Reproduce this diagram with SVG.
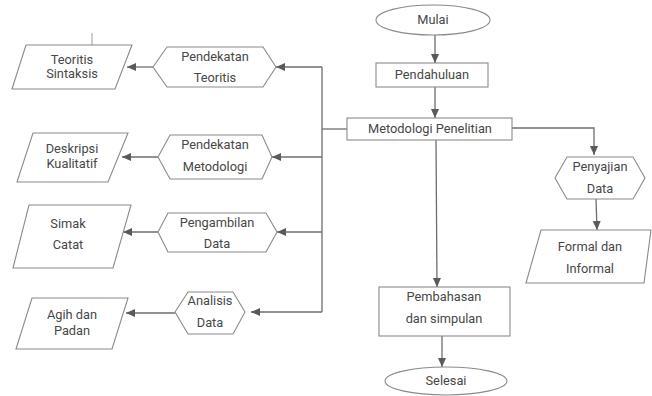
<svg xmlns="http://www.w3.org/2000/svg" width="652" height="396" viewBox="0 0 652 396">
<style>
.s{fill:#fff;stroke:#8a8a8a;stroke-width:1.1}
.t{font-family:Roboto,"Liberation Sans",sans-serif;font-size:12.8px;fill:#474747;text-anchor:middle}
.c{fill:none;stroke:#6e6e6e;stroke-width:1.3}
</style>
<defs>
<marker id="a" markerUnits="userSpaceOnUse" markerWidth="10" markerHeight="10" refX="9" refY="5" orient="auto">
<path d="M0,1 L9,5 L0,9 Z" fill="#5a5a5a"/>
</marker>
</defs>
<rect width="652" height="396" fill="#fff"/>
<g id="connectors">
<line class="c" x1="435" y1="35" x2="435" y2="63" marker-end="url(#a)"/>
<line class="c" x1="435" y1="87" x2="435" y2="118" marker-end="url(#a)"/>
<polyline class="c" points="347,129 322,129"/>
<line class="c" x1="322" y1="67" x2="322" y2="312"/>
<line class="c" x1="322" y1="67" x2="276" y2="67" marker-end="url(#a)"/>
<line class="c" x1="153" y1="67" x2="127" y2="67" marker-end="url(#a)"/>
<line class="c" x1="322" y1="157" x2="272" y2="157" marker-end="url(#a)"/>
<line class="c" x1="158" y1="157" x2="122" y2="157" marker-end="url(#a)"/>
<line class="c" x1="322" y1="232" x2="277" y2="232" marker-end="url(#a)"/>
<line class="c" x1="158" y1="232" x2="123" y2="232" marker-end="url(#a)"/>
<line class="c" x1="322" y1="312" x2="251" y2="312" marker-end="url(#a)"/>
<line class="c" x1="175" y1="313" x2="126" y2="313" marker-end="url(#a)"/>
<polyline class="c" points="512,128 594,128 594,155" marker-end="url(#a)"/>
<line class="c" x1="596" y1="199" x2="597" y2="230" marker-end="url(#a)"/>
<line class="c" x1="436" y1="140" x2="437" y2="287" marker-end="url(#a)"/>
<line class="c" x1="442" y1="336" x2="442" y2="367" marker-end="url(#a)"/>
<line x1="92" y1="33" x2="92" y2="45" stroke="#9a9a9a" stroke-width="1"/>
</g>
<g id="mulai">
<ellipse class="s" cx="433" cy="20" rx="57" ry="15"/>
<text class="t" x="433" y="24">Mulai</text>
</g>
<g id="pendahuluan">
<rect class="s" x="376" y="63" width="112" height="24"/>
<text class="t" x="432" y="79">Pendahuluan</text>
</g>
<g id="metodologi">
<rect class="s" x="347" y="118" width="165" height="22"/>
<text class="t" x="430" y="133">Metodologi Penelitian</text>
</g>
<g id="pendekatan-teoritis">
<polygon class="s" points="153,67 167,47 263,47 276,67 263,87 167,87"/>
<text class="t" x="215" y="61">Pendekatan</text>
<text class="t" x="215" y="82">Teoritis</text>
</g>
<g id="teoritis-sintaksis">
<polygon class="s" points="26,45 132,45 115,89 12,89"/>
<text class="t" x="72" y="64">Teoritis</text>
<text class="t" x="72" y="78">Sintaksis</text>
</g>
<g id="pendekatan-metodologi">
<polygon class="s" points="158,157 170,135 262,135 272,157 262,179 170,179"/>
<text class="t" x="215" y="149">Pendekatan</text>
<text class="t" x="215" y="171">Metodologi</text>
</g>
<g id="deskripsi-kualitatif">
<polygon class="s" points="33,133 128,133 108,182 17,182"/>
<text class="t" x="72" y="153">Deskripsi</text>
<text class="t" x="72" y="168">Kualitatif</text>
</g>
<g id="pengambilan-data">
<polygon class="s" points="158,232 168,213 266,213 277,232 266,252 168,252"/>
<text class="t" x="217" y="227">Pengambilan</text>
<text class="t" x="217" y="248">Data</text>
</g>
<g id="simak-catat">
<polygon class="s" points="29,205 131,205 113,268 13,268"/>
<text class="t" x="68" y="228">Simak</text>
<text class="t" x="68" y="249">Catat</text>
</g>
<g id="analisis-data">
<polygon class="s" points="175,312 188,292 233,292 245,312 233,334 188,334"/>
<text class="t" x="210" y="305">Analisis</text>
<text class="t" x="210" y="327">Data</text>
</g>
<g id="agih-padan">
<polygon class="s" points="32,298 128,298 112,349 16,349"/>
<text class="t" x="72" y="319">Agih dan</text>
<text class="t" x="72" y="335">Padan</text>
</g>
<g id="penyajian-data">
<polygon class="s" points="555,178 567,157 633,157 645,178 633,199 567,199"/>
<text class="t" x="600" y="171">Penyajian</text>
<text class="t" x="600" y="193">Data</text>
</g>
<g id="formal-informal">
<polygon class="s" points="541,230 651,230 644,283 526,283"/>
<text class="t" x="590" y="251">Formal dan</text>
<text class="t" x="590" y="273">Informal</text>
</g>
<g id="pembahasan">
<rect class="s" x="379" y="287" width="131" height="49"/>
<text class="t" x="444" y="301">Pembahasan</text>
<text class="t" x="444" y="323">dan simpulan</text>
</g>
<g id="selesai">
<ellipse class="s" cx="446" cy="381" rx="61" ry="14"/>
<text class="t" x="446" y="385">Selesai</text>
</g>
</svg>
